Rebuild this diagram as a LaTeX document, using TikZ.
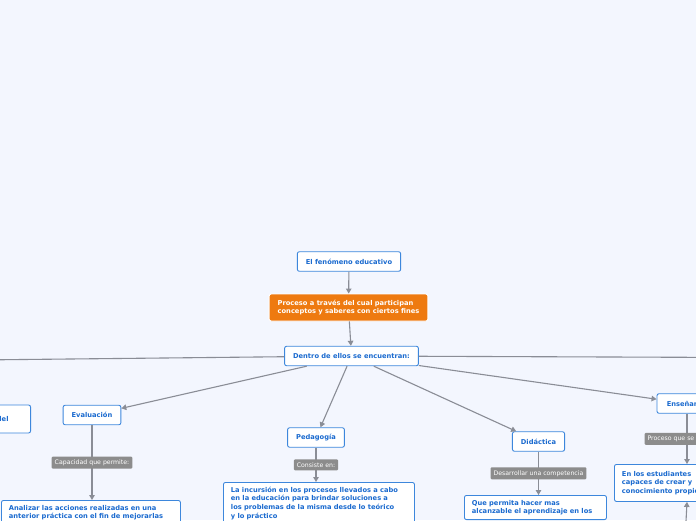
\documentclass[tikz,border=0pt]{standalone}
\usepackage{fontspec}
\setmainfont{DejaVu Sans}
\usetikzlibrary{arrows.meta}
\definecolor{CanvasBlue}{HTML}{F3F6FE}
\definecolor{BorderBlue}{HTML}{3D87DC}
\definecolor{LabelBlue}{HTML}{1A6ACF}
\definecolor{TopicOrange}{HTML}{EE7A10}
\definecolor{LinkGray}{HTML}{8A8D96}
\definecolor{TagGray}{HTML}{8C8C8C}
\tikzset{
  topic/.style={
    draw=BorderBlue,fill=white,rounded corners=2pt,line width=0.9pt,
    minimum height=19.5pt,inner xsep=8.5pt,
    font=\fontsize{6.7}{8.6}\selectfont\bfseries,text=LabelBlue,
    align=left
  },
  maintopic/.style={topic,draw=white,fill=TopicOrange,text=white},
  leaf/.style={topic,anchor=north west,inner xsep=7.5pt,inner ysep=4.5pt},
  tag/.style={
    fill=TagGray,rounded corners=1pt,inner xsep=3pt,inner ysep=3pt,
    font=\fontsize{6.2}{7}\selectfont,text=white
  },
  link/.style={draw=LinkGray,line width=1.1pt},
  linkarrow/.style={link,-{Triangle[length=5pt,width=5.5pt]}},
}

\begin{document}
\begin{tikzpicture}[x=1pt,y=-1pt]
  \fill[CanvasBlue] (0,0) rectangle (696,520);
  \useasboundingbox (0,0) rectangle (696,520);
  \clip (0,0) rectangle (696,520);
  % central chain
  \node[topic] (fen) at (349,261.5) {El fenómeno educativo};
  \node[maintopic, minimum height=27pt] (proc) at (348.5,307.5) {Proceso a través del cual participan\\conceptos y saberes con ciertos fines};
  \node[topic] (dentro) at (351.5,356) {Dentro de ellos se encuentran:};
  \draw[linkarrow] (fen) -- (proc);
  \draw[linkarrow] (proc) -- (dentro);
  % branches
  \node[topic, anchor=east, text width=60pt, align=right, minimum height=28pt, inner xsep=22pt] (delbox) at (31,419) {del};
  \node[topic] (eval) at (92,415) {Evaluación};
  \node[topic] (ped) at (316,437.5) {Pedagogía};
  \node[topic] (did) at (538.5,441.5) {Didáctica};
  \node[topic, minimum width=60pt] (ense) at (687,403.5) {Enseñanza};
  \coordinate (farleft) at (-400,364);
  \coordinate (farright) at (1000,358.5);
  \coordinate (farbelow) at (684,560);
  \draw[link] (dentro) -- (farleft);
  \draw[link] (dentro) -- (farright);
  \draw[linkarrow] (dentro) -- (eval);
  \draw[linkarrow] (dentro) -- (ped);
  \draw[linkarrow] (dentro) -- (did);
  \draw[linkarrow] (dentro) -- (ense);
  % leaves
  \node[leaf, text width=164pt] (analizar) at (1,500) {Analizar las acciones realizadas en una\\anterior práctica con el fin de mejorarlas};
  \node[leaf, text width=176pt] (incur) at (223,482) {La incursión en los procesos llevados a cabo\\en la educación para brindar soluciones a\\los problemas de la misma desde lo teórico\\y lo práctico};
  \node[leaf, text width=127pt] (permita) at (464,495) {Que permita hacer mas\\alcanzable el aprendizaje en los};
  \node[leaf, text width=120pt, minimum height=37pt] (estud) at (614,464) {En los estudiantes\\capaces de crear y\\conocimiento propio};
  \draw[linkarrow] (eval) -- (eval |- analizar.north) node[tag, midway] (tagcap) {Capacidad que permite:};
  \draw[linkarrow] (ped) -- (ped |- incur.north) node[tag, midway] (tagcons) {Consiste en:};
  \draw[linkarrow] (did) -- (did |- permita.north) node[tag, midway] (tagdes) {Desarrollar una competencia};
  \draw[linkarrow] (ense) -- (ense |- estud.north) node[tag, midway, anchor=west, xshift=-43pt] (tagproc) {Proceso que se};
  \draw[linkarrow] (farbelow) -- (estud.south -| ense);
\end{tikzpicture}
\end{document}
